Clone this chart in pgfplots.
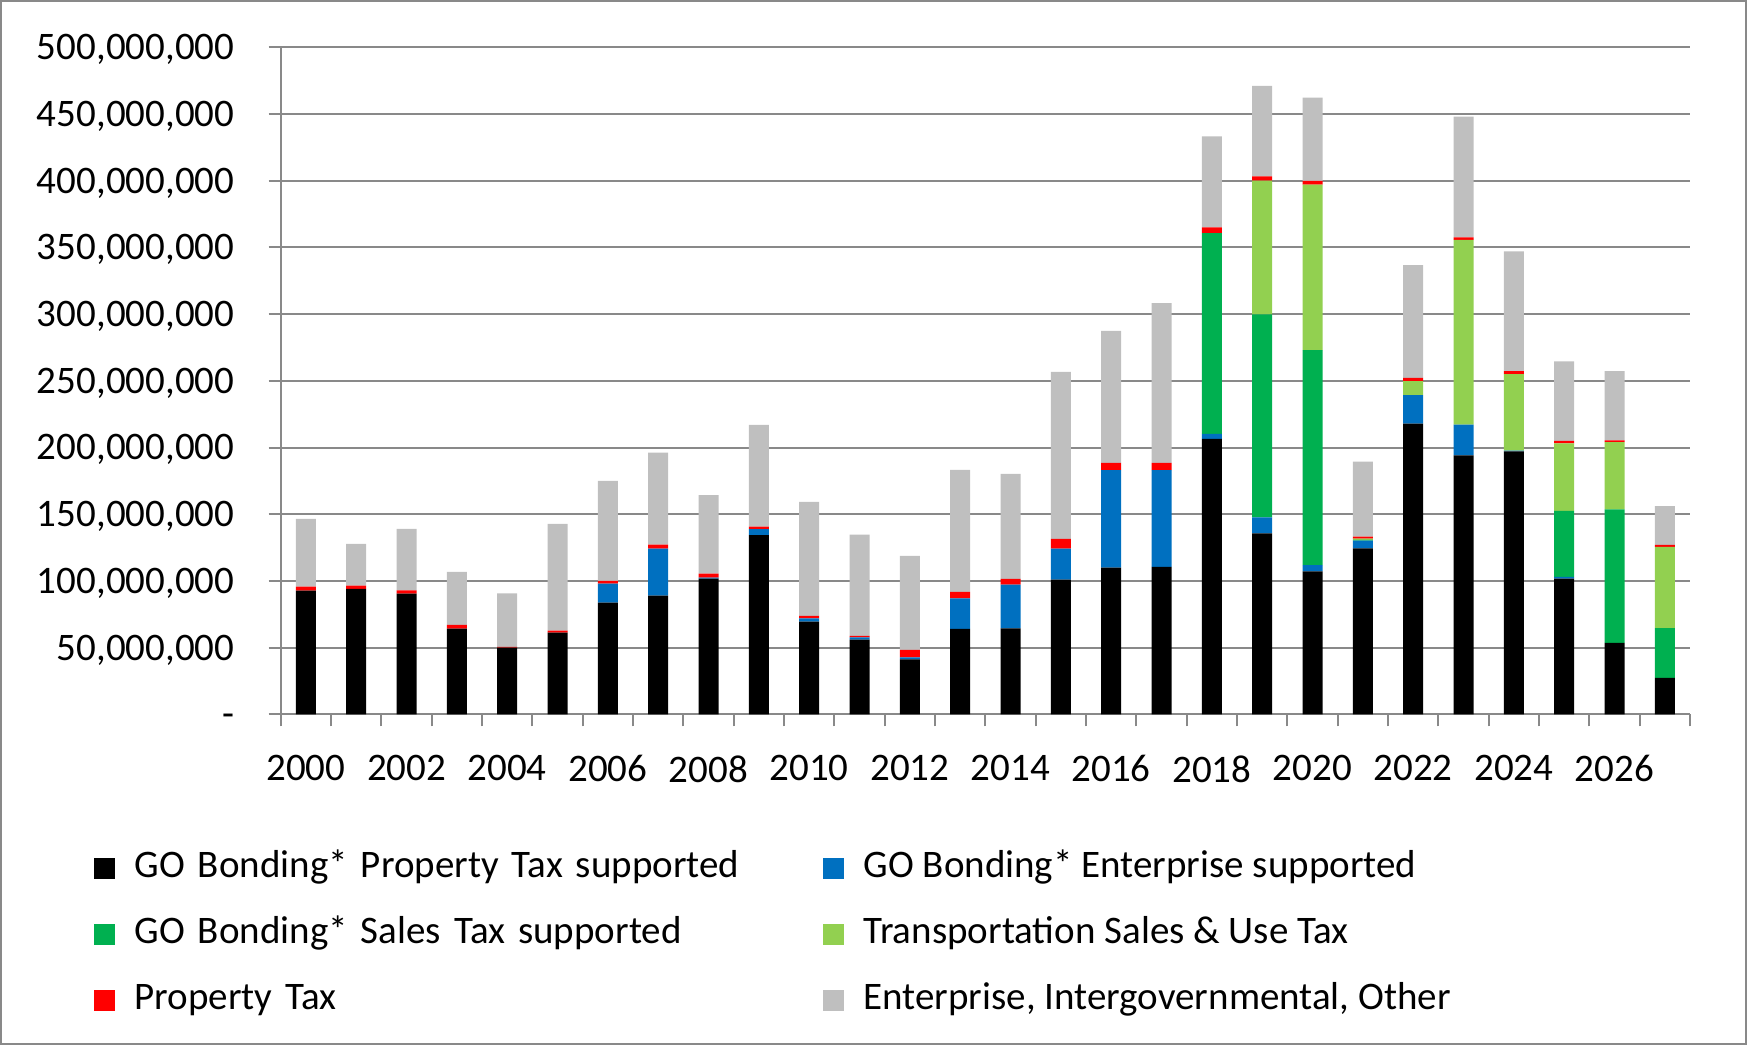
\documentclass[border=0pt]{standalone}
\usepackage{fontspec}
\setmainfont{Carlito}
\usepackage{pgfplots}
\usepackage{pgfplotstable}
\pgfplotsset{compat=1.18}
\definecolor{cBlk}{HTML}{000000}
\definecolor{cBlu}{HTML}{0070C0}
\definecolor{cGrn}{HTML}{00B050}
\definecolor{cLgr}{HTML}{92D050}
\definecolor{cRed}{HTML}{FF0000}
\definecolor{cGry}{HTML}{BFBFBF}
\definecolor{gridgray}{HTML}{898989}
\pgfplotstableread{
x blk blu grn lgr red gry
0 92.75 0 0 0 3 50.75
1 94 0 0 0 2.5 31.25
2 90.5 0 0 0 2.5 46
3 64.25 0 0 0 2.75 39.75
4 50 0 0 0 0.5 40.25
5 61.25 0 0 0 1.5 80
6 83.75 14.25 0 0 2 75
7 89 35.25 0 0 3 69
8 101.75 0.75 0 0 3 58.75
9 134.25 4.5 0 0 2 76.25
10 69.5 2.5 0 0 1.75 85.5
11 56 1.75 0 0 1 76
12 41.25 1.5 0 0 5.5 70.5
13 64 23 0 0 4.75 91.5
14 64.5 32.75 0 0 4.25 78.75
15 101 23.25 0 0 7.25 125.2
16 110 73 0 0 5.5 99
17 110.5 72.5 0 0 5.5 119.8
18 206.5 3.8 150.4 0 4.4 68.1
19 135.6 12 152.3 100.2 3.2 67.8
20 107.2 4.7 161.1 124 2.8 62.4
21 124.5 5.7 0.5 1.0 1.6 56.2
22 217.9 21.4 0 10.4 2.5 84.5
23 194.2 23 0 138.5 1.8 90.5
24 197.1 0.6 0 57.4 2.2 89.8
25 101.8 1.3 49.5 50.5 1.8 59.6
26 53.6 0 100 50.4 1.3 52
27 27.4 0 37.2 60.9 1.6 29
}\data
\begin{document}
\begin{tikzpicture}
\useasboundingbox (-140.35pt,-165.35pt) rectangle (733.1pt,357.15pt);
\draw[gridgray, line width=1.2pt] (-139.75pt,-164.75pt) rectangle (732.5pt,356.55pt);
\begin{axis}[
  at={(0,0)}, anchor=south west,
  scale only axis, width=704.6pt, height=333.5pt,
  ybar stacked, bar width=10pt,
  xmin=-0.5, xmax=27.5, ymin=0, ymax=500,
  axis x line*=bottom, axis y line*=left,
  axis line style={draw=gridgray, line width=1pt, -},
  ymajorgrids, grid style={draw=gridgray, line width=1pt},
  tick style={draw=gridgray, line width=1pt},
  tick align=outside, major tick length=6pt,
  ytick={0,50,...,500},
  yticklabels={{-},{50,000,000},{100,000,000},{150,000,000},{200,000,000},{250,000,000},{300,000,000},{350,000,000},{400,000,000},{450,000,000},{500,000,000}},
  yticklabel style={font=\fontsize{19.5pt}{23pt}\selectfont, inner sep=0pt, anchor=base east, xshift=-17pt, yshift=-6.2pt},
  xtick={-0.5,0.5,...,27.5}, xticklabels={},
  extra x ticks={0,2,...,26},
  extra x tick labels={2000,2002,2004,2006,2008,2010,2012,2014,2016,2018,2020,2022,2024,2026},
  extra x tick style={major tick length=0pt, grid=none, tick style={draw=none},
    xticklabel style={font=\fontsize{19.5pt}{23pt}\selectfont, inner sep=0pt, anchor=north, yshift=-20.4pt}},
  legend columns=2,
  legend image code/.code={\fill[#1] (0pt,-5.25pt) rectangle (10.5pt,5.25pt);},
  legend style={draw=none, fill=none, inner sep=0pt, at={(-0.1331,-0.2017)}, anchor=north west,
    font=\fontsize{19.5pt}{23pt}\selectfont, column sep=10pt, row sep=14pt,
    nodes={inner sep=0pt, text height=14pt, text depth=5pt},
    /tikz/column 2/.style={text width=334pt, align=left}},
  legend cell align=left,
]
\addplot[fill=cBlk, draw=none] table[x=x,y=blk]{\data};
\addplot[fill=cBlu, draw=none] table[x=x,y=blu]{\data};
\addplot[fill=cGrn, draw=none] table[x=x,y=grn]{\data};
\addplot[fill=cLgr, draw=none] table[x=x,y=lgr]{\data};
\addplot[fill=cRed, draw=none] table[x=x,y=red]{\data};
\addplot[fill=cGry, draw=none] table[x=x,y=gry]{\data};
\legend{GO Bonding* Property Tax supported, GO Bonding* Enterprise supported, GO Bonding* Sales Tax supported, Transportation Sales \& Use Tax, Property Tax, {Enterprise, Intergovernmental, Other}}
\end{axis}
\end{tikzpicture}
\end{document}
